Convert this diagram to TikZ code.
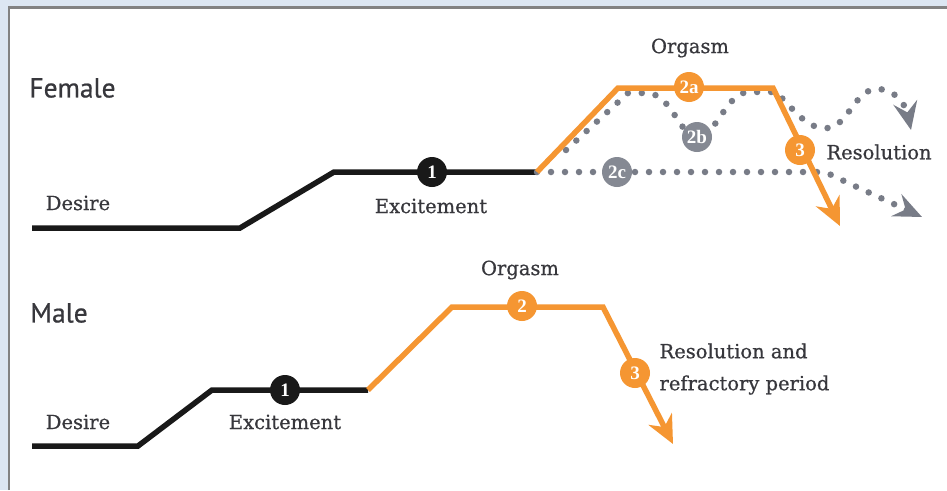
\documentclass[tikz,border=0pt]{standalone}
\usepackage{fontspec}
\setmainfont{DejaVu Serif}
\newfontfamily\lblfont[FakeBold=0.7]{DejaVu Serif}
\newfontfamily\headfont[FakeBold=0.6]{PT Sans}
\newfontfamily\numfont{Liberation Serif}
\usetikzlibrary{arrows.meta}
\definecolor{bgblue}{RGB}{220,230,242}
\definecolor{frame}{RGB}{130,130,130}
\definecolor{orng}{RGB}{245,150,50}
\definecolor{dotgray}{RGB}{120,124,135}
\definecolor{txt}{RGB}{55,55,60}
\definecolor{blk}{RGB}{25,25,25}
\tikzset{
  head/.style={font=\headfont\fontsize{27.5}{30}\selectfont, text=txt},
  lbl/.style={font=\lblfont\fontsize{19.5}{32}\selectfont, text=txt},
  blackline/.style={line width=5.5pt, draw=blk, line join=miter},
  orangeline/.style={line width=5.5pt, draw=orng, line join=miter},
  dotline/.style={line width=6.5pt, draw=dotgray, line cap=round, dash pattern=on 0pt off 14pt},
  grayhead/.style={-{Stealth[length=28pt,width=24pt,inset=10pt,fill=dotgray]}},
  numcirc/.style={circle, minimum size=30pt, inner sep=0pt, text=white, font=\numfont\bfseries\fontsize{19}{20}\selectfont},
  ocirc/.style={numcirc, fill=orng},
  bcirc/.style={numcirc, fill=blk},
  gcirc/.style={numcirc, fill=dotgray!90!white},
}
\begin{document}
\begin{tikzpicture}[x=1pt,y=-1pt]
\useasboundingbox (0,0) rectangle (947,490);
\fill[bgblue] (0,0) rectangle (947,490);
\fill[white] (9,7) rectangle (947,490);
\draw[frame, line width=2.5pt] (9,490) -- (9,7.5) -- (947,7.5);

% ---------- Female ----------
\node[head] (female) at (72.5,88) {Female};
\coordinate (fa) at (32,228);
\coordinate (fb) at (240,228);
\coordinate (fc) at (334,172);
\coordinate (fd) at (537,172);
\coordinate (fe) at (618,88);
\coordinate (ff) at (773,88);
\coordinate (fend) at (840,226);
\node[lbl] (fdesire) at (78,203) {Desire};
\node[lbl] (fexcite) at (431,206) {Excitement};
\node[lbl] (forg) at (690,48) {Orgasm};
\node[lbl] (fres) at (879,152) {Resolution};

\draw[blackline] (fa) -- (fb) -- (fc) -- (fd);

% dotted paths
\coordinate (g1) at (566,150);
\coordinate (g2) at (628,93);
\coordinate (g3) at (648,93);
\coordinate (g4) at (697,137);
\coordinate (g5) at (748,92);
\coordinate (g6) at (776,92);
\coordinate (g7) at (828,128);
\coordinate (g8) at (877,89);
\coordinate (gend) at (911,130);
\draw[dotline, grayhead]
  (g1) -- (g2) -- (g3) .. controls (672,95) and (680,137) .. (g4)
  .. controls (716,137) and (726,93) .. (g5) -- (g6)
  .. controls (796,112) and (808,130) .. (g7)
  .. controls (848,126) and (855,89) .. (g8)
  .. controls (896,89) and (906,106) .. (gend);
\coordinate (h1) at (812,172);
\coordinate (hend) at (922,217);
\draw[dotline, grayhead]
  (fd) -- (h1) .. controls (826,172) .. (846,182) -- (hend);

\draw[orangeline, -{Stealth[length=28pt,width=26pt,inset=9pt,fill=orng]}]
  (fd) -- (fe) -- (ff) -- (fend);

\node[bcirc] (f1) at (432,172) {1};
\node[ocirc] (f2a) at (689,87) {2a};
\node[gcirc] (f2b) at (697,137) {2b};
\node[gcirc] (f2c) at (617,172) {2c};
\node[ocirc] (f3) at (800,150) {3};

% ---------- Male ----------
\node[head] (male) at (59,313) {Male};
\coordinate (ma) at (32,446);
\coordinate (mb) at (138,446);
\coordinate (mc) at (212,390);
\coordinate (md) at (368,390);
\coordinate (me) at (452,307);
\coordinate (mf) at (603,307);
\coordinate (mend) at (673,444);
\node[lbl] (mdesire) at (78,422) {Desire};
\node[lbl] (mexcite) at (285,422) {Excitement};
\node[lbl] (morg) at (520,270) {Orgasm};
\node[lbl, anchor=west, align=left] (mres) at (656,369) {Resolution and\\refractory period};

\draw[blackline] (ma) -- (mb) -- (mc) -- (md);
\draw[orangeline, -{Stealth[length=28pt,width=26pt,inset=9pt,fill=orng]}]
  (md) -- (me) -- (mf) -- (mend);

\node[bcirc] (m1) at (285,390) {1};
\node[ocirc] (m2) at (522,306) {2};
\node[ocirc] (m3) at (635,373) {3};
\end{tikzpicture}
\end{document}
